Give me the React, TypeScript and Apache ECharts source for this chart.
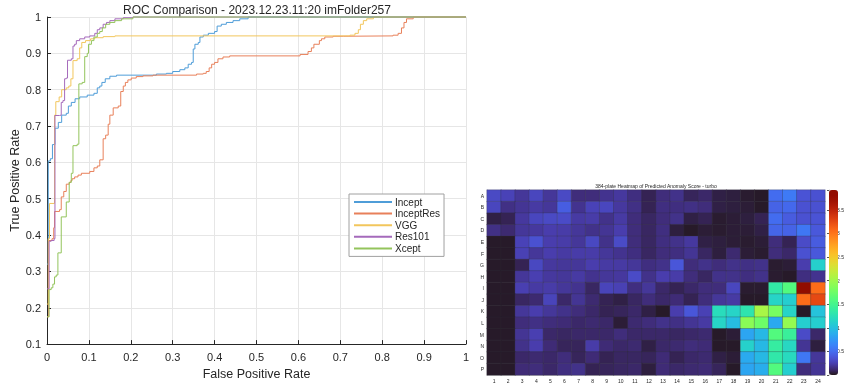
import React, { useEffect, useRef } from "react";
import * as echarts from "echarts";

const FONT = "'Liberation Sans', Arial, sans-serif";

const seriesNames = ["Incept", "InceptRes", "VGG", "Res101", "Xcept"];
const seriesColors = ["#4f9dd8", "#e8805a", "#f2c65c", "#a56abb", "#93c45c"];

const incept: [number, number][] = [[0,0.32],[0.003,0.604],[0.008,0.61],[0.013,0.649],[0.019,0.694],[0.027,0.71],[0.035,0.73],[0.046,0.735],[0.051,0.755],[0.058,0.765],[0.067,0.775],[0.078,0.78],[0.096,0.785],[0.112,0.79],[0.12,0.805],[0.126,0.81],[0.131,0.82],[0.139,0.83],[0.15,0.837],[0.166,0.84],[0.261,0.843],[0.285,0.845],[0.3,0.85],[0.317,0.855],[0.329,0.86],[0.337,0.87],[0.345,0.875],[0.349,0.912],[0.353,0.925],[0.361,0.93],[0.365,0.945],[0.373,0.95],[0.385,0.955],[0.4,0.96],[0.406,0.975],[0.416,0.98],[0.428,0.985],[0.444,0.99],[0.46,0.995],[0.48,1],[1,1]];
const inceptRes: [number, number][] = [[0,0.175],[0.004,0.385],[0.012,0.39],[0.016,0.42],[0.018,0.465],[0.03,0.47],[0.034,0.505],[0.04,0.52],[0.046,0.54],[0.053,0.545],[0.057,0.55],[0.06,0.555],[0.066,0.56],[0.074,0.565],[0.082,0.57],[0.102,0.575],[0.112,0.585],[0.12,0.59],[0.126,0.607],[0.134,0.665],[0.14,0.675],[0.146,0.705],[0.15,0.73],[0.158,0.75],[0.17,0.755],[0.176,0.795],[0.182,0.81],[0.187,0.82],[0.193,0.827],[0.201,0.832],[0.213,0.836],[0.229,0.838],[0.253,0.84],[0.357,0.843],[0.373,0.845],[0.38,0.85],[0.387,0.86],[0.393,0.87],[0.4,0.875],[0.408,0.885],[0.42,0.89],[0.436,0.893],[0.604,0.897],[0.623,0.905],[0.631,0.915],[0.637,0.925],[0.65,0.935],[0.655,0.94],[0.663,0.945],[0.683,0.947],[0.707,0.948],[0.826,0.95],[0.838,0.955],[0.846,0.97],[0.852,0.985],[0.858,0.995],[0.874,1],[1,1]];
const vgg: [number, number][] = [[0,0.21],[0.003,0.39],[0.006,0.487],[0.018,0.73],[0.021,0.767],[0.029,0.78],[0.035,0.8],[0.046,0.805],[0.052,0.81],[0.057,0.83],[0.062,0.88],[0.072,0.885],[0.078,0.915],[0.083,0.93],[0.092,0.935],[0.104,0.94],[0.114,0.943],[0.134,0.946],[0.162,0.948],[0.723,0.95],[0.735,0.955],[0.743,0.965],[0.748,0.98],[0.755,0.99],[0.763,0.995],[0.779,1],[1,1]];
const res101: [number, number][] = [[0,0.252],[0.005,0.383],[0.01,0.385],[0.017,0.39],[0.019,0.729],[0.03,0.73],[0.034,0.765],[0.038,0.77],[0.042,0.83],[0.046,0.832],[0.049,0.881],[0.058,0.885],[0.062,0.92],[0.066,0.925],[0.07,0.935],[0.078,0.94],[0.09,0.945],[0.102,0.948],[0.114,0.955],[0.12,0.965],[0.126,0.97],[0.134,0.98],[0.142,0.985],[0.15,0.99],[0.162,0.995],[0.182,0.998],[0.205,1],[1,1]];
const xcept: [number, number][] = [[0,0.175],[0.005,0.25],[0.01,0.255],[0.014,0.265],[0.018,0.285],[0.022,0.29],[0.026,0.351],[0.034,0.45],[0.046,0.491],[0.053,0.545],[0.058,0.57],[0.062,0.646],[0.072,0.65],[0.076,0.816],[0.084,0.82],[0.09,0.891],[0.096,0.9],[0.099,0.925],[0.106,0.935],[0.112,0.945],[0.12,0.955],[0.126,0.96],[0.132,0.97],[0.14,0.98],[0.15,0.985],[0.162,0.99],[0.178,0.995],[0.205,1],[1,1]];

const plateRows = ["A","B","C","D","E","F","G","H","I","J","K","L","M","N","O","P"];
const plateCols = ["1","2","3","4","5","6","7","8","9","10","11","12","13","14","15","16","17","18","19","20","21","22","23","24"];

const rowA = [0.31,0.27,0.2,0.29,0.2,0.31,0.14,0.14,0.18,0.21,0.15,0.08,0.14,0.17,0.09,0.11,0.06,0.05,0.03,0.02,0.5,0.58,0.36,0.35];
const rowB = [0.29,0.16,0.19,0.22,0.2,0.42,0.18,0.27,0.29,0.21,0.16,0.08,0.15,0.15,0.16,0.14,0.06,0.05,0.04,0.02,0.45,0.48,0.35,0.35];
const rowC = [0.06,0.08,0.21,0.29,0.31,0.32,0.22,0.23,0.17,0.22,0.14,0.1,0.14,0.17,0.06,0.08,0.03,0.04,0.05,0.08,0.5,0.41,0.35,0.36];
const rowD = [0.16,0.12,0.2,0.21,0.24,0.23,0.2,0.17,0.19,0.24,0.14,0.1,0.15,0.05,0.02,0.04,0.03,0.04,0.04,0.06,0.46,0.45,0.56,0.39];
const rowE = [0.02,0.02,0.27,0.35,0.24,0.23,0.2,0.3,0.17,0.32,0.14,0.1,0.15,0.17,0.21,0.06,0.05,0.04,0.03,0.04,0.14,0.08,0.32,0.41];
const rowF = [0.02,0.02,0.26,0.2,0.24,0.22,0.23,0.23,0.2,0.18,0.15,0.1,0.14,0.15,0.19,0.1,0.05,0.12,0.04,0.03,0.14,0.11,0.35,0.39];
const rowG = [0.02,0.02,0.08,0.3,0.21,0.2,0.2,0.24,0.22,0.22,0.2,0.15,0.17,0.38,0.14,0.17,0.14,0.17,0.16,0.17,0.03,0.04,0.24,1.12];
const rowH = [0.02,0.02,0.2,0.25,0.21,0.2,0.22,0.18,0.2,0.21,0.32,0.17,0.24,0.23,0.14,0.1,0.17,0.17,0.15,0.17,0.03,0.02,0.15,0.18];
const rowI = [0.02,0.02,0.25,0.22,0.23,0.2,0.18,0.1,0.28,0.26,0.15,0.2,0.11,0.08,0.11,0.14,0.14,0.29,0.03,0.03,1.35,1.6,3.9,3.05];
const rowJ = [0.02,0.02,0.1,0.12,0.28,0.11,0.19,0.12,0.08,0.06,0.1,0.14,0.11,0.13,0.08,0.14,0.2,0.22,0.02,0.02,1.15,1.1,3.05,3.25];
const rowK = [0.02,0.02,0.2,0.24,0.2,0.17,0.14,0.11,0.08,0.09,0.11,0.06,0.02,0.24,0.38,0.26,1.22,1.15,1.3,2.05,1.8,1.15,0.02,1.02];
const rowL = [0.02,0.02,0.14,0.16,0.14,0.13,0.11,0.12,0.11,0.04,0.12,0.14,0.17,0.16,0.19,0.22,1.15,0.98,1.9,1.75,0.85,1.95,1.1,1.1];
const rowM = [0.02,0.02,0.19,0.25,0.11,0.1,0.11,0.11,0.11,0.14,0.11,0.11,0.11,0.1,0.11,0.12,0.02,0.04,0.83,0.95,1.6,1.42,0.32,0.11];
const rowN = [0.02,0.02,0.17,0.24,0.13,0.09,0.09,0.23,0.13,0.11,0.12,0.06,0.11,0.12,0.14,0.13,0.02,0.02,1.13,0.95,1.38,1.18,0.19,0.05];
const rowO = [0.02,0.02,0.11,0.12,0.11,0.14,0.09,0.13,0.08,0.1,0.1,0.09,0.13,0.08,0.11,0.12,0.06,0.04,0.86,0.95,1.33,1.2,0.56,0.2];
const rowP = [0.02,0.02,0.13,0.14,0.11,0.15,0.17,0.08,0.09,0.1,0.11,0.05,0.13,0.11,0.12,0.13,0.09,0.02,0.83,0.88,1.6,1.1,0.14,0.19];

const colorbarTicks = ["0.5", "1", "1.5", "2", "2.5", "3", "3.5"];

function turbo(t: number): string {
  const r = 0.13572138 + t * (4.6153926 + t * (-42.66032258 + t * (132.13108234 + t * (-152.94239396 + t * 59.28637943))));
  const g = 0.09140261 + t * (2.19418839 + t * (4.84296658 + t * (-14.18503333 + t * (4.27729857 + t * 2.82956604))));
  const b = 0.1066733 + t * (12.64194608 + t * (-60.58204836 + t * (110.36276771 + t * (-89.90310912 + t * 27.34824973))));
  const c = (v: number) => Math.round(Math.max(0, Math.min(1, v)) * 255);
  return `rgb(${c(r)},${c(g)},${c(b)})`;
}

export default function App() {
  const ref = useRef<HTMLDivElement>(null);
  useEffect(() => {
    if (!ref.current) return;
    const chart = echarts.init(ref.current, undefined, { renderer: "svg" });
    const rocData = [incept, inceptRes, vgg, res101, xcept];
    const plate = [rowA,rowB,rowC,rowD,rowE,rowF,rowG,rowH,rowI,rowJ,rowK,rowL,rowM,rowN,rowO,rowP];
    const heat: number[][] = [];
    plate.forEach((row, r) => row.forEach((v, c) => heat.push([c, r, v])));
    const turboStops: string[] = [];
    for (let i = 0; i <= 32; i++) turboStops.push(turbo(i / 32));
    const fmt1 = (v: number) => String(+v.toFixed(1));
    const dark = "#262626";

    chart.setOption({
      animation: false,
      textStyle: { fontFamily: FONT },
      grid: [
        { left: 47, top: 17, width: 419, height: 332 },
        { left: 487, top: 190, width: 338, height: 185 },
        { left: 829, top: 190, width: 9, height: 185 },
      ],
      xAxis: [
        {
          gridIndex: 0, type: "value", min: 0, max: 1, interval: 0.1,
          axisLine: { show: true, onZero: false, lineStyle: { color: dark, width: 1 } },
          axisTick: { show: true, inside: true, length: 4, lineStyle: { color: dark } },
          splitLine: { show: true, lineStyle: { color: "#e6e6e6", width: 1 } },
          axisLabel: { fontSize: 11, color: dark, margin: 7, fontFamily: FONT, formatter: fmt1 },
          name: "False Positive Rate", nameLocation: "middle", nameGap: 21,
          nameTextStyle: { fontSize: 12.5, color: dark, fontFamily: FONT },
        },
        {
          gridIndex: 1, type: "category", data: plateCols, position: "bottom",
          axisLine: { show: true, lineStyle: { color: "#9a9a9a", width: 0.5 } },
          axisTick: { show: false },
          splitLine: { show: false },
          axisLabel: { fontSize: 5, color: dark, margin: 3, interval: 0, fontFamily: FONT },
        },
        { gridIndex: 2, type: "value", min: 0, max: 1, show: false },
      ],
      yAxis: [
        {
          gridIndex: 0, type: "value", min: 0.1, max: 1, interval: 0.1,
          axisLine: { show: true, onZero: false, lineStyle: { color: dark, width: 1 } },
          axisTick: { show: true, inside: true, length: 4, lineStyle: { color: dark } },
          splitLine: { show: true, lineStyle: { color: "#e6e6e6", width: 1 } },
          axisLabel: { fontSize: 11, color: dark, margin: 6, fontFamily: FONT, formatter: fmt1 },
          name: "True Positive Rate", nameLocation: "middle", nameGap: 22, nameRotate: 90,
          nameTextStyle: { fontSize: 12.5, color: dark, fontFamily: FONT },
        },
        {
          gridIndex: 1, type: "category", data: plateRows, inverse: true,
          axisLine: { show: true, lineStyle: { color: "#9a9a9a", width: 0.5 } },
          axisTick: { show: false },
          splitLine: { show: false },
          axisLabel: { fontSize: 5, color: dark, margin: 3, interval: 0, fontFamily: FONT },
        },
        {
          gridIndex: 2, type: "value", min: 0, max: 3.92, interval: 0.5, position: "right",
          axisLine: { show: true, lineStyle: { color: "#8a8a8a", width: 0.5 } },
          axisTick: { show: true, inside: true, length: 2, lineStyle: { color: "#555" } },
          splitLine: { show: false },
          axisLabel: {
            fontSize: 5, color: dark, margin: 4, fontFamily: FONT,
            formatter: (v: number) => (colorbarTicks.indexOf(String(+v.toFixed(1))) >= 0 ? String(+v.toFixed(1)) : ""),
          },
        },
      ],
      legend: {
        orient: "vertical", left: 349, top: 194, padding: [3, 4, 3, 4],
        itemWidth: 38, itemHeight: 10, itemGap: 1.6,
        backgroundColor: "#ffffff", borderColor: "#a0a0a0", borderWidth: 1, borderRadius: 0,
        itemStyle: { opacity: 0 },
        textStyle: { fontSize: 10, lineHeight: 10, color: dark, fontFamily: FONT, padding: [0, 0, 0, -2] },
        data: seriesNames,
      },
      visualMap: {
        type: "continuous", min: 0, max: 3.92, seriesIndex: 5, calculable: false,
        orient: "vertical", left: 829, top: 190, itemWidth: 9, itemHeight: 185,
        padding: 0, text: ["", ""], showLabel: false, hoverLink: false,
        inRange: { color: turboStops },
      },
      graphic: [
        {
          type: "text", x: 257, y: 10,
          style: { text: "ROC Comparison - 2023.12.23.11:20 imFolder257", fill: dark, font: `12px ${FONT}`, textAlign: "center", textVerticalAlign: "middle" },
        },
        {
          type: "text", x: 656, y: 186,
          style: { text: "384-plate Heatmap of Predicted Anomaly Score - turbo", fill: dark, font: `5px ${FONT}`, textAlign: "center", textVerticalAlign: "middle" },
        },
      ],
      series: [
        ...rocData.map((d, i) => ({
          name: seriesNames[i], type: "line", xAxisIndex: 0, yAxisIndex: 0,
          data: d, step: "end", symbol: "none", showSymbol: false,
          lineStyle: { color: seriesColors[i], width: 1 }, itemStyle: { color: seriesColors[i] },
          clip: false,
        })),
        {
          type: "heatmap", xAxisIndex: 1, yAxisIndex: 1, data: heat,
          itemStyle: { borderColor: "rgba(50,50,60,0.55)", borderWidth: 0.5 },
          emphasis: { disabled: true },
        },
      ],
    });
    return () => chart.dispose();
  }, []);
  return <div ref={ref} style={{ position: "fixed", left: 0, top: 0, width: 847, height: 385 }} />;
}
